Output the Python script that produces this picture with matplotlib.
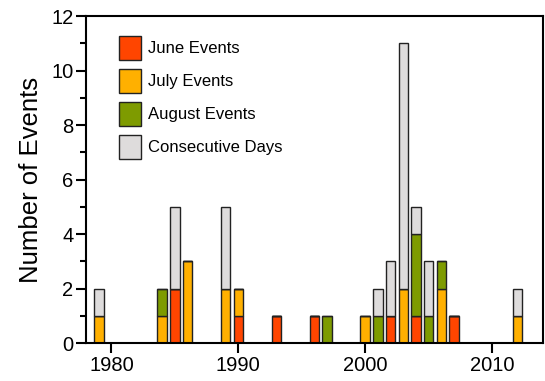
import matplotlib.pyplot as plt
import numpy as np

plt.rcParams['font.family'] = ['Liberation Sans', 'DejaVu Sans']

# Events per year, stacked: June, July, August, then consecutive days
years =       [1979, 1984, 1985, 1986, 1989, 1990, 1993, 1996, 1997, 2000,
               2001, 2002, 2003, 2004, 2005, 2006, 2007, 2012]
june =        [0, 0, 2, 0, 0, 1, 1, 1, 0, 0, 0, 1, 0, 1, 0, 0, 1, 0]
july =        [1, 1, 0, 3, 2, 1, 0, 0, 0, 1, 0, 0, 2, 0, 0, 2, 0, 1]
august =      [0, 1, 0, 0, 0, 0, 0, 0, 1, 0, 1, 0, 0, 3, 1, 1, 0, 0]
consecutive = [1, 0, 3, 0, 3, 0, 0, 0, 0, 0, 1, 2, 9, 1, 2, 0, 0, 1]

labels = ["June Events", "July Events", "August Events", "Consecutive Days"]
colors = ["#FF4500", "#FFB000", "#7E9B00", "#DEDCDC"]

fig = plt.figure(figsize=(5.45, 3.81), dpi=100)
ax = fig.add_axes([0.158, 0.0997, 0.838, 0.858])

bottom = np.zeros(len(years))
for vals, lab, col in zip([june, july, august, consecutive], labels, colors):
    vals = np.array(vals, dtype=float)
    ax.bar(years, vals, width=0.75, bottom=bottom, color=col,
           edgecolor="#222222", linewidth=1.0, label=lab)
    bottom += vals

ax.set_xlim(1978, 2014)
ax.set_ylim(0, 12)
ax.set_xticks([1980, 1990, 2000, 2010])
ax.set_yticks(range(0, 13, 2))
ax.set_yticks(range(1, 12, 2), minor=True)

for s in ax.spines.values():
    s.set_linewidth(1.5)
ax.tick_params(axis="both", which="major", direction="out", length=7,
               width=1.5, labelsize=14.5, colors="black")
ax.tick_params(axis="y", which="minor", direction="out", length=4, width=1.5)
ax.tick_params(axis="x", which="major", pad=2)
ax.tick_params(axis="y", which="major", pad=2)

ax.set_ylabel("Number of Events", fontsize=18.5, labelpad=6)

ax.legend(loc="upper left", bbox_to_anchor=(0.072, 0.94), frameon=False,
          fontsize=12, handlelength=1.35, handleheight=1.9, labelspacing=0.5,
          handletextpad=0.4, borderpad=0, borderaxespad=0)

fig.savefig("out.png", dpi=100)
